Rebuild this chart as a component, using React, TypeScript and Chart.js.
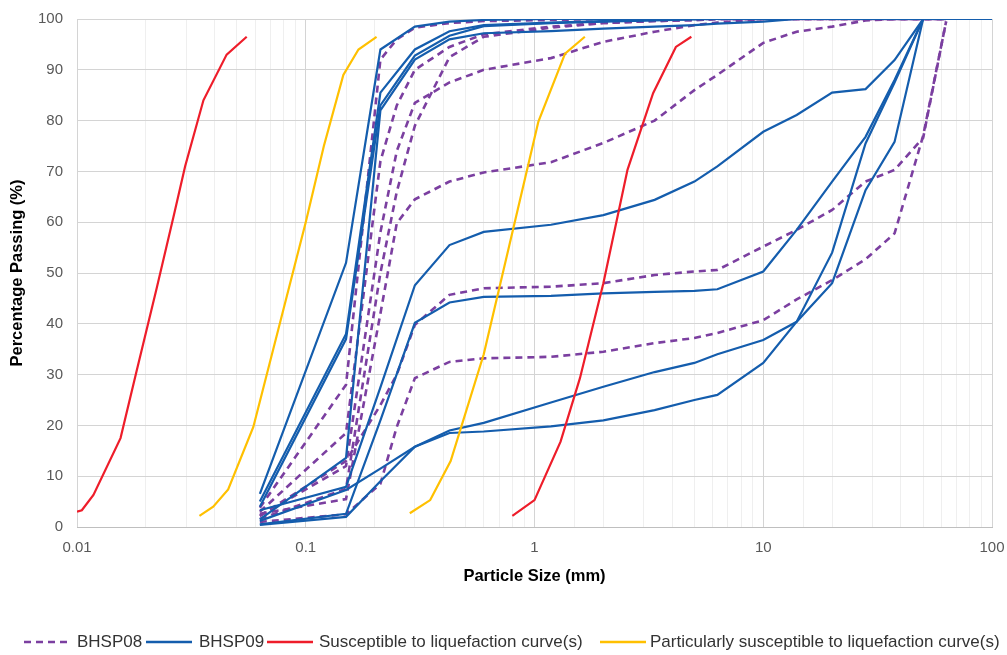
import React, { useEffect, useRef } from "react";
import { Chart, registerables } from "chart.js";
Chart.register(...registerables);

// ---------------- DATA ----------------
const SIZES_08 = [0.063, 0.15, 0.212, 0.25, 0.3, 0.425, 0.6, 1.18, 2, 3.35, 5, 6.3, 10, 14, 20, 28, 37.5, 50, 63];
const BHSP08_A = [1.0, 2.5, 8.5, 19.7, 29.3, 32.5, 33.2, 33.5, 34.5, 36.2, 37.2, 38.2, 40.7, 44.8, 48.6, 52.7, 57.8, 77, 99.5];
const BHSP08_B = [2.2, 13, 24, 30, 39.8, 45.7, 47, 47.3, 48, 49.6, 50.3, 50.6, 55.2, 58.5, 62.4, 68, 70.3, 76.6, 99.5];
const BHSP08_C = [2.6, 5.5, 42, 59.8, 64.5, 68, 69.8, 71.8, 75.6, 80, 86, 89, 95.3, 97.5, 98.5, 99.7, 100, 100, 100];
const BHSP08_D = [3.8, 28, 92, 96, 98.3, 99.2, 99.6, 99.8, 100, 100, 100, 100, 100, 100, 100, 100, 100, 100, 100];
const BHSP08_E = [3.0, 18.5, 72, 83, 90, 94.5, 97, 98.5, 99.2, 99.6, 99.8, 100, 100, 100, 100, 100, 100, 100, 100];
const BHSP08_F = [2.2, 12, 58, 74, 83.5, 87.5, 90, 92.3, 95.5, 97.5, 98.8, 99.3, 100, 100, 100, 100, 100, 100, 100];
const BHSP08_G = [1.6, 7.5, 50, 66, 79, 92.5, 96.5, 98.3, 99.2, 99.6, 99.8, 100, 100, 100, 100, 100, 100, 100, 100];

const SIZES_09 = [0.063, 0.15, 0.212, 0.3, 0.425, 0.6, 1.18, 2, 3.35, 5, 6.3, 10, 14, 20, 28, 37.5, 50, 100];
const BHSP09_A = [6.5, 52, 94, 98.5, 99.5, 99.8, 100, 100, 100, 100, 100, 100, 100, 100, 100, 100, 100, 100];
const BHSP09_B = [5, 38, 85.5, 94, 97.6, 98.8, 99.3, 99.6, 99.8, 100, 100, 100, 100, 100, 100, 100, 100, 100];
const BHSP09_C = [4, 37, 83, 92.8, 96.7, 98.6, 99.2, 99.5, 99.7, 99.9, 100, 100, 100, 100, 100, 100, 100, 100];
const BHSP09_D = [1.5, 13.6, 82, 92, 96, 97.2, 97.6, 98.1, 98.5, 98.8, 99.1, 99.5, 100, 100, 100, 100, 100, 100];
const BHSP09_E = [3.3, 7.9, 27.5, 47.6, 55.5, 58.1, 59.5, 61.4, 64.4, 68, 71, 77.8, 81.1, 85.5, 86.2, 91.9, 100, 100];
const BHSP09_F = [0.5, 2.6, 21, 40.2, 44.2, 45.3, 45.5, 46, 46.3, 46.5, 46.8, 50.3, 58.5, 68, 76.8, 88, 100, 100];
const BHSP09_G = [0.4, 2, 9, 15.8, 18.5, 18.8, 19.8, 21, 23, 25, 26, 32.3, 40.4, 54, 75.5, 87.5, 100, 100];
const BHSP09_H = [1.2, 7.3, 11.5, 15.8, 19, 20.5, 24.5, 27.6, 30.5, 32.3, 34, 36.8, 40.4, 48, 66.3, 75.8, 100, 100];

const SUSC_LEFT_X = [0.01, 0.0105, 0.0118, 0.0155, 0.0182, 0.0223, 0.0264, 0.0297, 0.0357, 0.0451, 0.0552];
const SUSC_LEFT_Y = [3, 3.3, 6.3, 17.5, 30.6, 47, 61, 71, 84, 93, 96.5];
const SUSC_RIGHT_X = [0.8, 1.0, 1.3, 1.58, 2.0, 2.55, 3.3, 4.15, 4.85];
const SUSC_RIGHT_Y = [2.2, 5.3, 16.8, 29.3, 48, 70.3, 85.4, 94.5, 96.5];

const PART_LEFT_X = [0.0343, 0.0394, 0.0458, 0.059, 0.1, 0.12, 0.146, 0.17, 0.204];
const PART_LEFT_Y = [2.2, 4, 7.4, 19.7, 60, 75, 89, 94, 96.5];
const PART_RIGHT_X = [0.285, 0.35, 0.43, 0.6, 1.04, 1.36, 1.66];
const PART_RIGHT_Y = [2.7, 5.3, 13, 34, 79.8, 93.2, 96.5];

const X_TICKS = [0.01, 0.1, 1, 10, 100];
const LEGEND_LABELS = [
  "BHSP08",
  "BHSP09",
  "Susceptible to liquefaction curve(s)",
  "Particularly susceptible to liquefaction curve(s)",
];
const X_TITLE = "Particle Size (mm)";
const Y_TITLE = "Percentage Passing (%)";

// ---------------- STYLE ----------------
const PURPLE = "#7B3FA0";
const BLUE = "#145DAD";
const RED = "#EE1D2A";
const YELLOW = "#FFC000";
const FONT = "'Liberation Sans', Arial, sans-serif";
const COLORS = [PURPLE, BLUE, RED, YELLOW];
const DASHED = [true, false, false, false];
const LEGEND_LAYOUT = [
  { lineX: 24, textX: 77 },
  { lineX: 146, textX: 199 },
  { lineX: 267, textX: 319 },
  { lineX: 600, textX: 650 },
];

const pts = (xs: number[], ys: number[]) => xs.map((x, i) => ({ x, y: ys[i] }));
const isDecade = (v: number) => {
  const l = Math.log10(v);
  return Math.abs(l - Math.round(l)) < 1e-6;
};

export default function App() {
  const ref = useRef<HTMLCanvasElement | null>(null);

  useEffect(() => {
    if (!ref.current) return;
    const purple = [BHSP08_A, BHSP08_B, BHSP08_C, BHSP08_D, BHSP08_E, BHSP08_F, BHSP08_G].map((v) => ({
      label: "BHSP08",
      data: pts(SIZES_08, v),
      borderColor: PURPLE,
      borderWidth: 2.6,
      borderDash: [7, 5],
      pointRadius: 0,
      fill: false,
      tension: 0,
    }));
    const blue = [BHSP09_A, BHSP09_B, BHSP09_C, BHSP09_D, BHSP09_E, BHSP09_F, BHSP09_G, BHSP09_H].map((v) => ({
      label: "BHSP09",
      data: pts(SIZES_09, v),
      borderColor: BLUE,
      borderWidth: 2.2,
      pointRadius: 0,
      fill: false,
      tension: 0,
    }));
    const red = [pts(SUSC_LEFT_X, SUSC_LEFT_Y), pts(SUSC_RIGHT_X, SUSC_RIGHT_Y)].map((d) => ({
      label: LEGEND_LABELS[2],
      data: d,
      borderColor: RED,
      borderWidth: 2.2,
      pointRadius: 0,
      fill: false,
      tension: 0,
    }));
    const yellow = [pts(PART_LEFT_X, PART_LEFT_Y), pts(PART_RIGHT_X, PART_RIGHT_Y)].map((d) => ({
      label: LEGEND_LABELS[3],
      data: d,
      borderColor: YELLOW,
      borderWidth: 2.2,
      pointRadius: 0,
      fill: false,
      tension: 0,
    }));
    // first dataset is drawn on top in Chart.js
    const datasets = [...yellow, ...red, ...blue, ...purple];

    const chart = new Chart(ref.current, {
      type: "line",
      data: { datasets },
      options: {
        animation: false,
        responsive: true,
        maintainAspectRatio: false,
        layout: { padding: { left: 0, top: 19, right: 15, bottom: 0 } },
        plugins: { legend: { display: false }, tooltip: { enabled: false } },
        scales: {
          x: {
            type: "logarithmic",
            min: 0.01,
            max: 100,
            afterFit: (s: any) => {
              s.height = 128;
              s.paddingLeft = 0;
              s.paddingRight = 0;
            },
            grid: {
              color: (c: any) => (c.tick && isDecade(c.tick.value) ? "#D4D4D4" : "#EFEFEF"),
              lineWidth: 1,
              drawTicks: false,
            },
            border: { color: "#BFBFBF", width: 1 },
            ticks: {
              autoSkip: false,
              maxRotation: 0,
              padding: 12,
              color: "#595959",
              font: { family: FONT, size: 15 },
              callback: (v: any) => {
                const n = Number(v);
                return X_TICKS.some((t) => Math.abs(Math.log10(n) - Math.log10(t)) < 1e-6)
                  ? String(parseFloat(n.toPrecision(6)))
                  : "";
              },
            },
            title: {
              display: true,
              text: X_TITLE,
              color: "#000",
              font: { family: FONT, size: 16.5, weight: "bold" },
              padding: { top: 0, bottom: 69 },
            },
          },
          y: {
            min: 0,
            max: 100,
            afterFit: (s: any) => {
              s.width = 77;
              s.paddingTop = 0;
              s.paddingBottom = 0;
            },
            grid: { color: "#D4D4D4", lineWidth: 1, drawTicks: false },
            border: { display: false },
            ticks: {
              stepSize: 10,
              padding: 14,
              color: "#595959",
              font: { family: FONT, size: 15 },
            },
            title: {
              display: true,
              text: Y_TITLE,
              color: "#000",
              font: { family: FONT, size: 16.5, weight: "bold" },
              padding: { top: 8, bottom: 0 },
            },
          },
        },
      } as any,
    });
    return () => chart.destroy();
  }, []);

  return (
    <div style={{ position: "fixed", left: 0, top: 0, width: 1007, height: 655, background: "#fff" }}>
      <canvas ref={ref} />
      {LEGEND_LABELS.map((lab, i) => (
        <React.Fragment key={lab}>
          <svg
            style={{ position: "absolute", left: LEGEND_LAYOUT[i].lineX, top: 636, width: 46, height: 12 }}
            width={46}
            height={12}
          >
            <line
              x1={0}
              y1={6}
              x2={46}
              y2={6}
              stroke={COLORS[i]}
              strokeWidth={DASHED[i] ? 2.6 : 2.4}
              strokeDasharray={DASHED[i] ? "7 5" : undefined}
            />
          </svg>
          <div
            style={{
              position: "absolute",
              left: LEGEND_LAYOUT[i].textX,
              top: 632,
              fontFamily: FONT,
              fontSize: 17,
              lineHeight: "20px",
              color: "#333",
              whiteSpace: "nowrap",
            }}
          >
            {lab}
          </div>
        </React.Fragment>
      ))}
    </div>
  );
}
